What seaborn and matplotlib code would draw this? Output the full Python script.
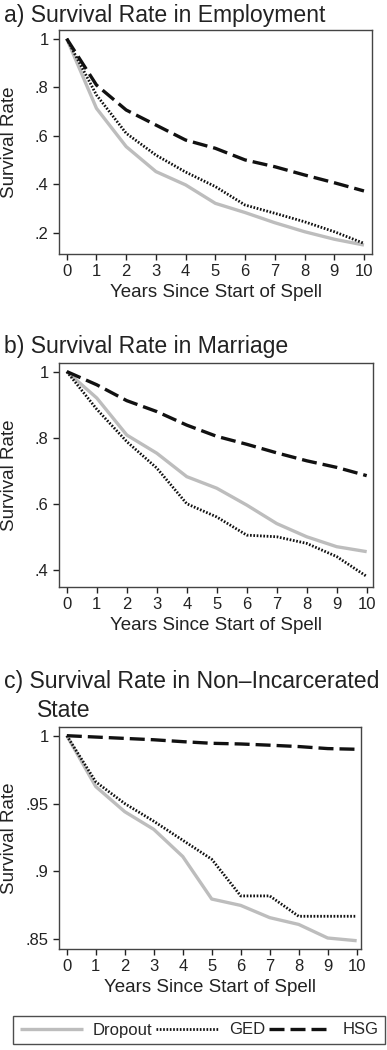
import numpy as np
import pandas as pd
import matplotlib
matplotlib.use("Agg")
import matplotlib.pyplot as plt
from matplotlib.ticker import FuncFormatter
import seaborn as sns

years = list(range(11))
groups = ["Dropout", "GED", "HSG"]

# a) employment
emp_dropout = [1.0, 0.713, 0.555, 0.452, 0.397, 0.321, 0.283, 0.241, 0.204, 0.173, 0.149]
emp_ged = [1.0, 0.768, 0.610, 0.520, 0.450, 0.390, 0.314, 0.280, 0.245, 0.204, 0.156]
emp_hsg = [1.0, 0.809, 0.706, 0.644, 0.582, 0.548, 0.500, 0.472, 0.438, 0.406, 0.372]

# b) marriage
mar_dropout = [1.0, 0.920, 0.808, 0.753, 0.682, 0.647, 0.596, 0.540, 0.500, 0.470, 0.455]
mar_ged = [1.0, 0.886, 0.788, 0.708, 0.600, 0.560, 0.505, 0.500, 0.480, 0.440, 0.380]
mar_hsg = [1.0, 0.960, 0.912, 0.879, 0.838, 0.804, 0.780, 0.754, 0.730, 0.710, 0.685]

# c) non-incarcerated
inc_dropout = [1.0, 0.9625, 0.944, 0.931, 0.911, 0.8797, 0.875, 0.866, 0.861, 0.851, 0.849]
inc_ged = [1.0, 0.966, 0.950, 0.937, 0.923, 0.909, 0.882, 0.882, 0.867, 0.867, 0.867]
inc_hsg = [1.0, 0.999, 0.998, 0.997, 0.9956, 0.9944, 0.9939, 0.993, 0.992, 0.9905, 0.990]

panels = [
    ("a) Survival Rate in Employment", [emp_dropout, emp_ged, emp_hsg], [.2, .4, .6, .8, 1]),
    ("b) Survival Rate in Marriage", [mar_dropout, mar_ged, mar_hsg], [.4, .6, .8, 1]),
    ("c) Survival Rate in Non\u2013Incarcerated", [inc_dropout, inc_ged, inc_hsg], [.85, .9, .95, 1]),
]

sns.set_style("ticks")
plt.rcParams["font.family"] = ["Liberation Sans", "DejaVu Sans"]

W, H = 387, 1050
fig = plt.figure(figsize=(W / 100, H / 100), dpi=100)

# axes boxes in pixels: left, top, right, bottom
boxes = [(59, 30, 372, 254), (59, 363, 373, 587), (59, 727, 361, 949)]
ylims = [(0.112, 1.036), (0.348, 1.026), (0.8429, 1.0064)]
xlims = [(-0.26, 10.27), (-0.26, 10.21), (-0.27, 10.15)]
title_y = [22, 353, 688]

palette = {"Dropout": "#bdbdbd", "GED": "#111111", "HSG": "#111111"}
dashes = {"Dropout": "", "GED": (0.6, 0.6), "HSG": (4.5, 1.8)}
widths = {"Dropout": 2.4, "GED": 2.0, "HSG": 2.4}

fmt = FuncFormatter(lambda v, p: ("%g" % v).lstrip("0"))

for i, (title, series, yticks) in enumerate(panels):
    l, t, r, b = boxes[i]
    ax = fig.add_axes([l / W, (H - b) / H, (r - l) / W, (b - t) / H])
    df = pd.DataFrame({
        "year": years * 3,
        "rate": series[0] + series[1] + series[2],
        "group": np.repeat(groups, len(years)),
    })
    for g in groups:
        sns.lineplot(data=df[df["group"] == g], x="year", y="rate",
                     color=palette[g], dashes=False, lw=widths[g],
                     label=g if i == 0 else None, ax=ax)
        line = ax.get_lines()[-1]
        if dashes[g]:
            line.set_dashes(dashes[g])
        line.set_solid_capstyle("butt")
        line.set_dash_capstyle("butt")
    if ax.get_legend():
        ax.get_legend().remove()
    ax.set_xlim(*xlims[i])
    ax.set_ylim(*ylims[i])
    ax.set_xticks(years)
    ax.set_yticks(yticks)
    ax.yaxis.set_major_formatter(fmt)
    ax.tick_params(labelsize=12, colors="#222222", length=4, width=1)
    ax.set_xlabel("Years Since Start of Spell", fontsize=13.5, color="#222222", labelpad=3)
    ax.set_ylabel("Survival Rate", fontsize=13.5, color="#222222")
    ax.yaxis.set_label_coords((18 - l) / (r - l), 0.5)
    for s in ax.spines.values():
        s.set_color("#444444")
        s.set_linewidth(1.0)
    fig.text(4 / W, (H - title_y[i]) / H, title, fontsize=16.6, color="#222222",
             ha="left", va="baseline")

fig.text(37 / W, (H - 717) / H, "State", fontsize=16.6, color="#222222",
         ha="left", va="baseline")

handles, labels = fig.axes[0].get_legend_handles_labels()
leg = fig.legend(handles, labels, loc="center", ncol=3,
                 bbox_to_anchor=(13 / W, (H - 1048) / H, 372 / W, 36 / H),
                 mode="expand", frameon=True, fancybox=False, fontsize=12,
                 handlelength=3.8, handletextpad=0.6, columnspacing=0.8,
                 borderaxespad=0.0)
leg.get_frame().set_edgecolor("#222222")
leg.get_frame().set_linewidth(1.0)

fig.savefig("out.png", dpi=100, facecolor="white")
